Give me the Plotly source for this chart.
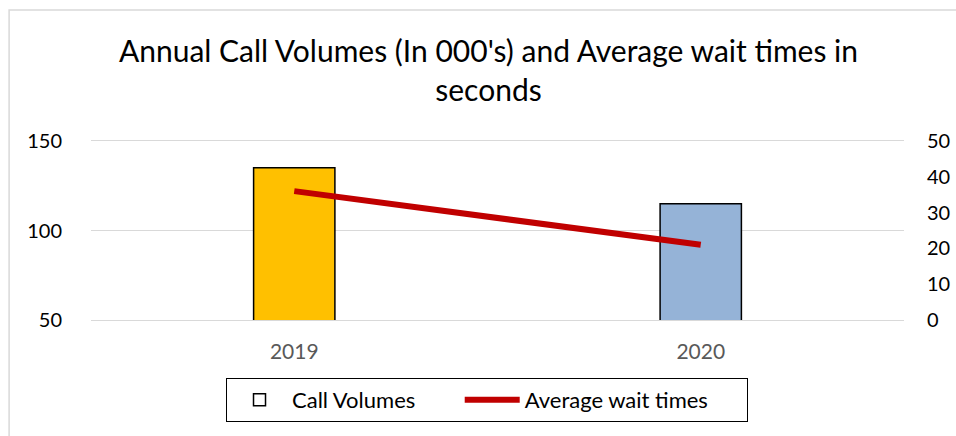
import plotly.graph_objects as go

years = ["2019", "2020"]
call_volumes = [135, 115]
wait_times = [36, 21]
bar_colors = ["#FFC000", "#95B3D7"]
series_names = ["Call Volumes", "Average wait times"]

W, H = 956, 436
L, R, T, B = 90.5, 51.5, 141, 116
pw, ph = W - L - R, H - T - B

def px(x):
    return (x - L) / pw

def py(y):
    return (H - B - y) / ph

NB = "\u00a0"

fig = go.Figure()
fig.add_trace(go.Bar(
    x=years, y=call_volumes, name=series_names[0], showlegend=False,
    marker=dict(color=bar_colors, line=dict(color="black", width=1.5)),
    width=0.2, yaxis="y",
))
# legend entry: white box with black outline, as in the reference
fig.add_trace(go.Bar(
    x=[None], y=[None], name=series_names[0] + NB * 7,
    marker=dict(color="white", line=dict(color="black", width=1.5)),
    width=0.2, yaxis="y",
))
fig.add_trace(go.Scatter(
    x=years, y=wait_times, name=series_names[1] + NB * 6, mode="lines",
    line=dict(color="#C00000", width=6), yaxis="y2",
))

font = "Lato, 'Open Sans', sans-serif"
fig.update_layout(
    width=W, height=H,
    barmode="overlay",
    margin=dict(l=L, r=R, t=T, b=B, pad=0, autoexpand=False),
    paper_bgcolor="white", plot_bgcolor="white",
    font=dict(family=font, size=20, color="black"),
    title=dict(
        text="Annual Call Volumes (In 000's) and Average wait times in<br>seconds",
        x=px(488.5), xref="paper", xanchor="center",
        y=1 - 62 / H, yanchor="top",
        font=dict(size=30, family=font, color="black"),
    ),
    xaxis=dict(showgrid=False, tickfont=dict(color="#595959", size=21), ticks="",
               ticklabelstandoff=13,
               showline=True, mirror=True, linecolor="#D9D9D9", linewidth=1,
               automargin=False),
    yaxis=dict(range=[50, 150], dtick=50, showgrid=True, gridcolor="#D9D9D9",
               gridwidth=1, zeroline=False, ticks="", ticklabelstandoff=28,
               tickfont=dict(size=20), automargin=False),
    yaxis2=dict(range=[0, 50], dtick=10, overlaying="y", side="right",
                showgrid=False, zeroline=False, ticks="", ticklabelstandoff=22,
                tickfont=dict(size=20), automargin=False),
    legend=dict(
        orientation="h", x=px(487), xanchor="center", y=py(378), yanchor="top",
        bordercolor="black", borderwidth=1, font=dict(size=22),
        itemwidth=55,
    ),
    shapes=[dict(type="rect", xref="paper", yref="paper",
                 x0=px(8.5), x1=px(1000), y0=py(10), y1=py(500),
                 line=dict(color="#D9D9D9", width=1.5), layer="below")],
)

fig.write_html("out.html", config={"displayModeBar": False},
               post_script="document.body.style.margin='0';")
